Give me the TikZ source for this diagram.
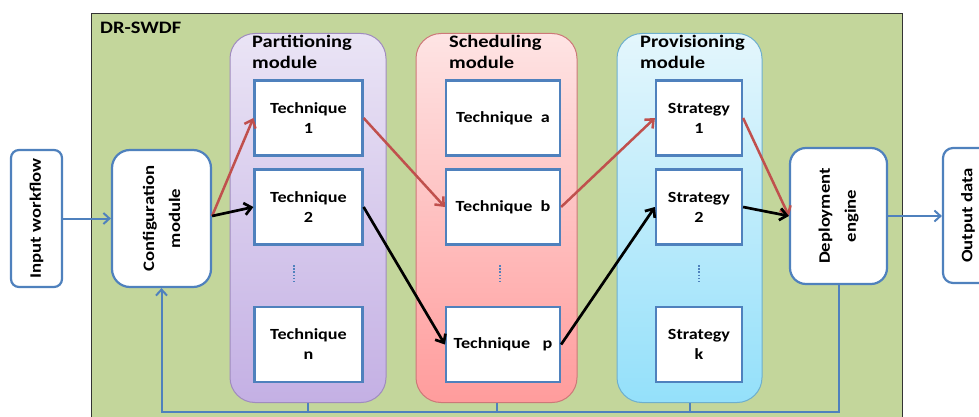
\documentclass[tikz,border=0pt]{standalone}
\usepackage{fontspec}
\setmainfont[FakeStretch=1.17]{Carlito}
\usetikzlibrary{arrows.meta}
\definecolor{bgreen}{RGB}{195,214,155}
\definecolor{obblue}{RGB}{79,129,189}
\definecolor{ored}{RGB}{192,80,77}
\definecolor{purtop}{RGB}{234,228,245}
\definecolor{purbot}{RGB}{196,176,228}
\definecolor{purline}{RGB}{160,140,190}
\definecolor{pinktop}{RGB}{254,228,228}
\definecolor{pinkbot}{RGB}{255,156,156}
\definecolor{pinkline}{RGB}{205,120,120}
\definecolor{cyantop}{RGB}{228,246,252}
\definecolor{cyanbot}{RGB}{148,224,250}
\definecolor{cyanline}{RGB}{110,175,205}
\tikzset{
  boxtext/.style={font=\fontsize{15.5}{20}\selectfont\bfseries, align=center},
  sidetext/.style={font=\fontsize{16}{26}\selectfont\bfseries, align=center, rotate=90},
  titletext/.style={font=\fontsize{17.5}{21}\selectfont\bfseries, align=left, inner sep=0pt},
  techbox/.style={draw=obblue, line width=2.2pt, fill=white, minimum width=108pt, minimum height=75pt, inner sep=0pt, boxtext},
  stratbox/.style={techbox, minimum width=86pt},
  container/.style={line width=1pt, rounded corners=25pt, minimum width=#1, minimum height=369pt, inner sep=0pt},
  sidebox/.style={draw=obblue, line width=2.2pt, fill=white, inner sep=0pt},
  redarrow/.style={draw=ored, line width=2.5pt, -{Straight Barb[length=7pt,width=12pt,line width=2.5pt]}},
  blackarrow/.style={draw=black, line width=2.7pt, -{Straight Barb[length=7pt,width=12pt,line width=2.7pt]}},
  bluearrow/.style={draw=obblue, line width=2pt, -{Straight Barb[length=6pt,width=11pt]}},
  blueline/.style={draw=obblue, line width=2pt},
  vdotsline/.style={draw=obblue, line width=2pt, dash pattern=on 1.6pt off 1.6pt}
}
\begin{document}
\begin{tikzpicture}[x=1pt,y=-1pt]
\useasboundingbox (0,0) rectangle (979,417);
\clip (0,0) rectangle (979,417);
% main frame
\node[draw=black!80, line width=1pt, fill=bgreen, minimum width=811pt, minimum height=430pt, anchor=north west, inner sep=0pt] (frame) at (91,13) {};
\node[titletext, anchor=west] (drlabel) at (100,28) {DR-SWDF};
% containers
\node[container=156pt, draw=purline, top color=purtop, bottom color=purbot] (part) at (308,218) {};
\node[container=161pt, draw=pinkline, top color=pinktop, bottom color=pinkbot] (sched) at (496.5,218) {};
\node[container=145pt, draw=cyanline, top color=cyantop, bottom color=cyanbot] (prov) at (689.5,218) {};
\node[titletext, anchor=north west] (parttitle) at (252,35) {Partitioning\\module};
\node[titletext, anchor=north west] (schedtitle) at (449,35) {Scheduling\\module};
\node[titletext, anchor=north west] (provtitle) at (640,35) {Provisioning\\module};
% technique boxes
\node[techbox] (t1) at (308.5,118) {Technique\\1};
\node[techbox] (t2) at (308.5,207) {Technique\\2};
\node[techbox] (tn) at (308.5,344.5) {Technique\\n};
\node[techbox, minimum width=114pt] (ta) at (503,118) {Technique~ a};
\node[techbox, minimum width=114pt] (tb) at (503,207) {Technique~ b};
\node[techbox, minimum width=114pt] (tp) at (503,344.5) {Technique~~ p};
\node[stratbox] (s1) at (699,118) {Strategy\\1};
\node[stratbox] (s2) at (699,207) {Strategy\\2};
\node[stratbox] (sk) at (699,344.5) {Strategy\\k};
% vertical dots
\draw[vdotsline] (294,265) -- (294,282);
\draw[vdotsline] (500,265) -- (500,282);
\draw[vdotsline] (699,265) -- (699,282);
% side boxes
\node[sidebox, rounded corners=8pt, minimum width=51pt, minimum height=137pt] (input) at (36.5,218.5) {};
\node[sidetext] (inputtxt) at (input.center) {Input workflow};
\node[sidebox, rounded corners=18pt, minimum width=99pt, minimum height=137pt] (config) at (161.5,218.5) {};
\node[sidetext] (configtxt) at (config.center) {Configuration\\module};
\node[sidebox, rounded corners=16pt, minimum width=97pt, minimum height=136pt] (deploy) at (838.5,216) {};
\node[sidetext] (deploytxt) at (deploy.center) {Deployment\\engine};
\node[sidebox, rounded corners=10pt, minimum width=50pt, minimum height=135pt] (output) at (968,215.5) {};
\node[sidetext] (outputtxt) at (output.center) {Output data};
% blue connectors
\draw[bluearrow] (input.east) -- (config.west |- input.east);
\draw[bluearrow] (deploy.east) -- (output.west |- deploy.east);
\coordinate (fb) at (838.5,412);
\draw[blueline] (part.south) -- (part.south |- fb);
\draw[blueline] (sched.south) -- (sched.south |- fb);
\draw[blueline] (prov.south) -- (prov.south |- fb);
\draw[bluearrow] (deploy.south) -- (fb) -| (config.south);
% red and black arrows
\draw[redarrow] (config.east |- 0,216) -- (t1.west);
\draw[blackarrow] (config.east |- 0,216) -- (t2.west);
\draw[redarrow] (t1.east) -- (tb.west);
\draw[blackarrow] (t2.east) -- (tp.west);
\draw[redarrow] (tb.east) -- (s1.west);
\draw[blackarrow] (tp.east) -- (s2.west);
\draw[redarrow] (s1.east) -- (deploy.west);
\draw[blackarrow] (s2.east) -- (deploy.west);
\end{tikzpicture}
\end{document}
